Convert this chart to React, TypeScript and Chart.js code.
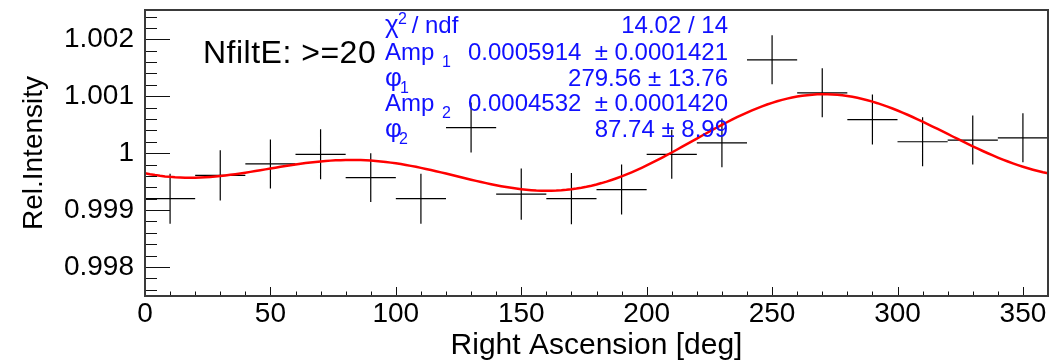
import React, { useEffect, useRef } from "react";
import { Chart, registerables } from "chart.js";

Chart.register(...registerables);

// ---- Data ----
const binCenters = [10, 30, 50, 70, 90, 110, 130, 150, 170, 190, 210, 230, 250, 270, 290, 310, 330, 350];
const relIntensity = [
  0.99920, 0.99961, 0.99981, 0.99998, 0.99957, 0.99920, 1.00045, 0.99928, 0.99920,
  0.99936, 0.99998, 1.00018, 1.00164, 1.00106, 1.00059, 1.00020, 1.00023, 1.00027,
];
const relIntensityErr = [
  0.00044, 0.00044, 0.00043, 0.00044, 0.00043, 0.00044, 0.00044, 0.00045, 0.00045,
  0.00044, 0.00043, 0.00043, 0.00043, 0.00043, 0.00044, 0.00043, 0.00043, 0.00043,
];
const binHalfWidth = 10;

// Fit result shown in the stats box: 1 + Amp1*cos(x-phi1) + Amp2*cos(2(x-phi2))
const fitAmp1 = 0.0005914;
const fitPhi1 = 279.56;
const fitAmp2 = 0.0004532;
const fitPhi2 = 87.74;

const xTickValues = [0, 50, 100, 150, 200, 250, 300, 350];
const yTickValues = [0.998, 0.999, 1, 1.001, 1.002];
const yTickLabels = ["0.998", "0.999", "1", "1.001", "1.002"];

const statsRightText = ["14.02 / 14", "0.0005914  \u00b1 0.0001421", "279.56 \u00b1 13.76", "0.0004532  \u00b1 0.0001420", "87.74 \u00b1 8.99"];
const annotationText = "NfiltE: >=20";

const FONT = '"Liberation Sans", Arial, Helvetica, sans-serif';

function fitValue(x: number): number {
  const r = Math.PI / 180;
  return 1 + fitAmp1 * Math.cos((x - fitPhi1) * r) + fitAmp2 * Math.cos(2 * (x - fitPhi2) * r);
}

export default function App() {
  const canvasRef = useRef<HTMLCanvasElement | null>(null);

  useEffect(() => {
    document.body.style.margin = "0";
    const canvas = canvasRef.current;
    if (!canvas) return;

    const crossData: { x: number; y: number | null }[] = [];
    binCenters.forEach((x, i) => {
      const y = relIntensity[i];
      const e = relIntensityErr[i];
      crossData.push({ x: x - binHalfWidth, y }, { x: x + binHalfWidth, y }, { x, y: null });
      crossData.push({ x, y: y - e }, { x, y: y + e }, { x, y: null });
    });

    const fitData: { x: number; y: number }[] = [];
    for (let x = 0; x <= 360; x += 2) fitData.push({ x, y: fitValue(x) });

    const rootPlugin = {
      id: "rootStyle",
      afterDraw(chart: any) {
        const { ctx, chartArea } = chart;
        const xs = chart.scales.x;
        const ys = chart.scales.y;
        const { left, right, top, bottom } = chartArea;
        ctx.save();
        // ticks
        ctx.strokeStyle = "#111";
        ctx.lineWidth = 1;
        ctx.beginPath();
        for (let v = 0; v <= 360; v += 10) {
          const px = Math.round(xs.getPixelForValue(v)) + 0.5;
          const len = v % 50 === 0 ? 9 : 4.5;
          ctx.moveTo(px, bottom);
          ctx.lineTo(px, bottom - len);
        }
        for (let k = Math.ceil(ys.min / 0.0002); k * 0.0002 <= ys.max; k++) {
          const v = k * 0.0002;
          const py = Math.round(ys.getPixelForValue(v)) + 0.5;
          const len = k % 5 === 0 ? 25 : 12;
          ctx.moveTo(left, py);
          ctx.lineTo(left + len, py);
        }
        ctx.stroke();
        // frame
        ctx.strokeStyle = "#3a3a3a";
        ctx.lineWidth = 2;
        ctx.strokeRect(left, top, right - left, bottom - top);

        // annotation
        ctx.fillStyle = "#000";
        ctx.font = `32px ${FONT}`;
        (ctx as any).letterSpacing = "0.5px";
        ctx.textAlign = "left";
        ctx.textBaseline = "alphabetic";
        ctx.fillText(annotationText, 203, 63);
        (ctx as any).letterSpacing = "0px";

        // stats box
        const blue = "#1010ff";
        ctx.fillStyle = blue;
        const big = `24px ${FONT}`;
        const small = `16px ${FONT}`;
        const lx = 385;
        const rx = 728;
        const baselines = [33, 60, 86, 111, 137];
        ctx.textAlign = "left";
        // line 1
        ctx.font = `26px ${FONT}`;
        ctx.fillText("\u03c7", lx, baselines[0]);
        ctx.font = small;
        ctx.fillText("2", 398, 24);
        ctx.font = big;
        ctx.fillText(" / ndf", 405, baselines[0]);
        // Amp lines
        ctx.fillText("Amp", lx, baselines[1]);
        ctx.fillText("Amp", lx, baselines[3]);
        ctx.font = `26px ${FONT}`;
        ctx.fillText("\u03c6", lx, baselines[2]);
        ctx.fillText("\u03c6", lx, baselines[4]);
        ctx.font = small;
        ctx.fillText("1", 442, baselines[1] + 7);
        ctx.fillText("2", 442, baselines[3] + 7);
        ctx.fillText("1", 400, baselines[2] + 7);
        ctx.fillText("2", 399, baselines[4] + 7);
        ctx.font = big;
        ctx.textAlign = "right";
        statsRightText.forEach((t, i) => ctx.fillText(t, rx, baselines[i]));
        ctx.restore();
      },
    };

    const chart = new Chart(canvas, {
      type: "line",
      data: {
        datasets: [
          {
            label: "fit",
            data: fitData,
            borderColor: "#ff0000",
            borderWidth: 2.5,
            pointRadius: 0,
            tension: 0,
          },
          {
            label: "Rel.Intensity",
            data: crossData as any,
            borderColor: "#000000",
            borderWidth: 1.2,
            pointRadius: 0,
            spanGaps: false,
            tension: 0,
          },
        ],
      },
      options: {
        responsive: false,
        animation: false,
        events: [],
        layout: { padding: { top: 10, right: 8, left: 0, bottom: 0 } },
        plugins: { legend: { display: false }, tooltip: { enabled: false } },
        scales: {
          x: {
            type: "linear",
            min: 0,
            max: 360,
            afterBuildTicks: (s: any) => {
              s.ticks = xTickValues.map((v) => ({ value: v }));
            },
            afterFit: (s: any) => {
              s.height = 66;
              s.paddingLeft = 0;
              s.paddingRight = 0;
            },
            grid: { display: false, drawTicks: false },
            border: { display: false },
            ticks: {
              autoSkip: false,
              maxRotation: 0,
              padding: 1,
              color: "#000",
              font: { family: FONT, size: 28, lineHeight: 1.2 },
              callback: (v: any) => String(v),
            },
            title: {
              display: true,
              text: "Right Ascension [deg]",
              color: "#000",
              font: { family: FONT, size: 30, lineHeight: 1.1 },
              padding: { top: 0, bottom: 0 },
            },
          },
          y: {
            type: "linear",
            min: 0.99749,
            max: 1.002515,
            afterBuildTicks: (s: any) => {
              s.ticks = yTickValues.map((v) => ({ value: v }));
            },
            afterFit: (s: any) => {
              s.width = 145;
              s.paddingTop = 0;
              s.paddingBottom = 0;
            },
            grid: { display: false, drawTicks: false },
            border: { display: false },
            ticks: {
              autoSkip: false,
              padding: 11,
              color: "#000",
              font: { family: FONT, size: 28, lineHeight: 1.2 },
              callback: (v: any) => {
                const idx = yTickValues.findIndex((t) => Math.abs(t - v) < 1e-9);
                return idx >= 0 ? yTickLabels[idx] : "";
              },
            },
            title: {
              display: true,
              text: "Rel.Intensity",
              color: "#000",
              font: { family: FONT, size: 28, lineHeight: 1.2 },
              padding: { top: 17, bottom: 0 },
            },
          },
        },
      },
      plugins: [rootPlugin],
    });

    return () => chart.destroy();
  }, []);

  return (
    <div style={{ width: 1056, height: 362, background: "#fff" }}>
      <canvas ref={canvasRef} width={1056} height={362} style={{ display: "block" }} />
    </div>
  );
}
